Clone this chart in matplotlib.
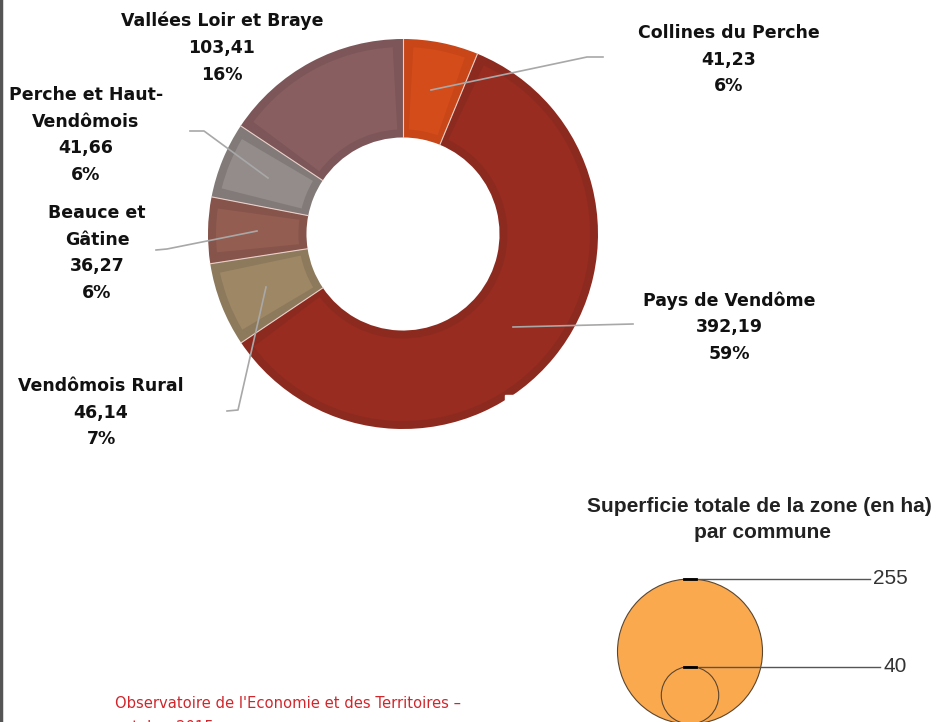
import numpy as np
import matplotlib.pyplot as plt
from matplotlib.patches import Wedge

# Donut data, clockwise from 12 o'clock
zones = ['Collines du Perche', 'Pays de Vendôme', 'Vendômois Rural',
         'Beauce et Gâtine', 'Perche et Haut-Vendômois', 'Vallées Loir et Braye']
surface = [41.23, 392.19, 46.14, 36.27, 41.66, 103.41]
pct_text = ['6%', '59%', '7%', '6%', '6%', '16%']
label_lines = ['Collines du Perche', 'Pays de Vendôme', 'Vendômois Rural',
               'Beauce et\nGâtine', 'Perche et Haut-\nVendômois', 'Vallées Loir et Braye']
fill_col = ['#D44C1A', '#982C21', '#9E8765', '#935D51', '#948C8A', '#885E60']
edge_col = ['#C84617', '#8D2A1F', '#8D7A5C', '#86544B', '#817A78', '#7C5659']

# proportional circles legend
legend_vals = [255, 40]

W, H = 939, 722
fig = plt.figure(figsize=(W / 100, H / 100), dpi=100)
ax = fig.add_axes([0, 0, 1, 1])

def Y(y):
    ''' picture rows -> axis coords '''
    return H - y

cx, cy, R = 403, 234, 195
ring = R * 0.505
wedges, _ = ax.pie(surface, radius=R, center=(cx, Y(cy)), startangle=90,
                   counterclock=False, colors=edge_col,
                   wedgeprops=dict(width=ring, linewidth=0))

# lighter inset on every segment (bevel look)
inset = 8
rmid = R - ring / 2
for w, fc in zip(wedges, fill_col):
    d = np.degrees(inset / rmid)
    ax.add_patch(Wedge((cx, Y(cy)), R - inset, w.theta1 + d, w.theta2 - d,
                       width=ring - 2 * inset, facecolor=fc, lw=0, zorder=2))
    # thin light separator
    a = np.radians(w.theta1)
    ax.plot([cx + (R - ring) * np.cos(a), cx + R * np.cos(a)],
            [Y(cy) + (R - ring) * np.sin(a), Y(cy) + R * np.sin(a)],
            color='#E9CFC8', lw=0.8, zorder=3)

# label text blocks: (x center, top of first line)
label_pos = [(729, 24), (729, 291), (101, 377), (97, 204), (86, 86), (222, 12)]
# leader lines in picture pixels
leaders = [
    [(431, 90), (587, 57), (603, 57)],
    [(513, 327), (633, 324)],
    [(266, 287), (238, 410), (227, 411)],
    [(257, 231), (167, 249), (156, 250)],
    [(268, 178), (204, 131), (190, 131)],
]
for pts in leaders:
    xs = [p[0] for p in pts]
    ys = [Y(p[1]) for p in pts]
    ax.plot(xs, ys, color='#A8A8A8', lw=1.2, zorder=4)

for name, val, pc, (lx, ly) in zip(label_lines, surface, pct_text, label_pos):
    txt = name + '\n' + f'{val:.2f}'.replace('.', ',') + '\n' + pc
    ax.text(lx, Y(ly), txt, ha='center', va='top', fontsize=12.5,
            fontweight='bold', color='#111111', linespacing=1.62,
            family='DejaVu Sans')

# small white artefact on the ring
ax.add_patch(plt.Rectangle((505, Y(403)), 8, 8, color='white', zorder=5))

# proportional circles legend
ax.text(759, Y(507), 'Superficie totale de la zone (en ha)', ha='center',
        va='center', fontsize=15, fontweight='bold', family='Liberation Sans',
        color='#222222')
ax.text(762, Y(533), 'par commune', ha='center', va='center', fontsize=15,
        fontweight='bold', family='Liberation Sans', color='#222222')
lx0, rmax, bottom = 690, 72.5, 724
for v, xe in zip(legend_vals, [870, 880]):
    r = rmax * np.sqrt(v / legend_vals[0])
    c = plt.Circle((lx0, Y(bottom - r)), r, facecolor='#FBA94F',
                   edgecolor='#5A4630', lw=0.8, zorder=3)
    ax.add_patch(c)
    top = Y(bottom - 2 * r)
    ax.plot([lx0, xe], [top, top], color='#555555', lw=1, zorder=4)
    ax.plot([lx0 - 6, lx0 + 6], [top, top], color='black', lw=2, zorder=5)
    ax.text(xe + 3, top, str(v), ha='left', va='center', fontsize=15,
            family='Liberation Sans', color='#333333')

# source note, second line cut off by the frame as in the original
ax.text(115, Y(704), "Observatoire de l'Economie et des Territoires –",
        ha='left', va='center', fontsize=10.6, color='#D0262C', family='DejaVu Sans')
ax.text(115, Y(727), 'octobre 2015',
        ha='left', va='center', fontsize=10.6, color='#D0262C', family='DejaVu Sans')

# left page border
ax.plot([1, 1], [0, H], color='#555555', lw=2.5)

ax.set_xlim(0, W)
ax.set_ylim(0, H)
ax.set_aspect('equal')
ax.axis('off')
fig.savefig('out.png', dpi=100)
